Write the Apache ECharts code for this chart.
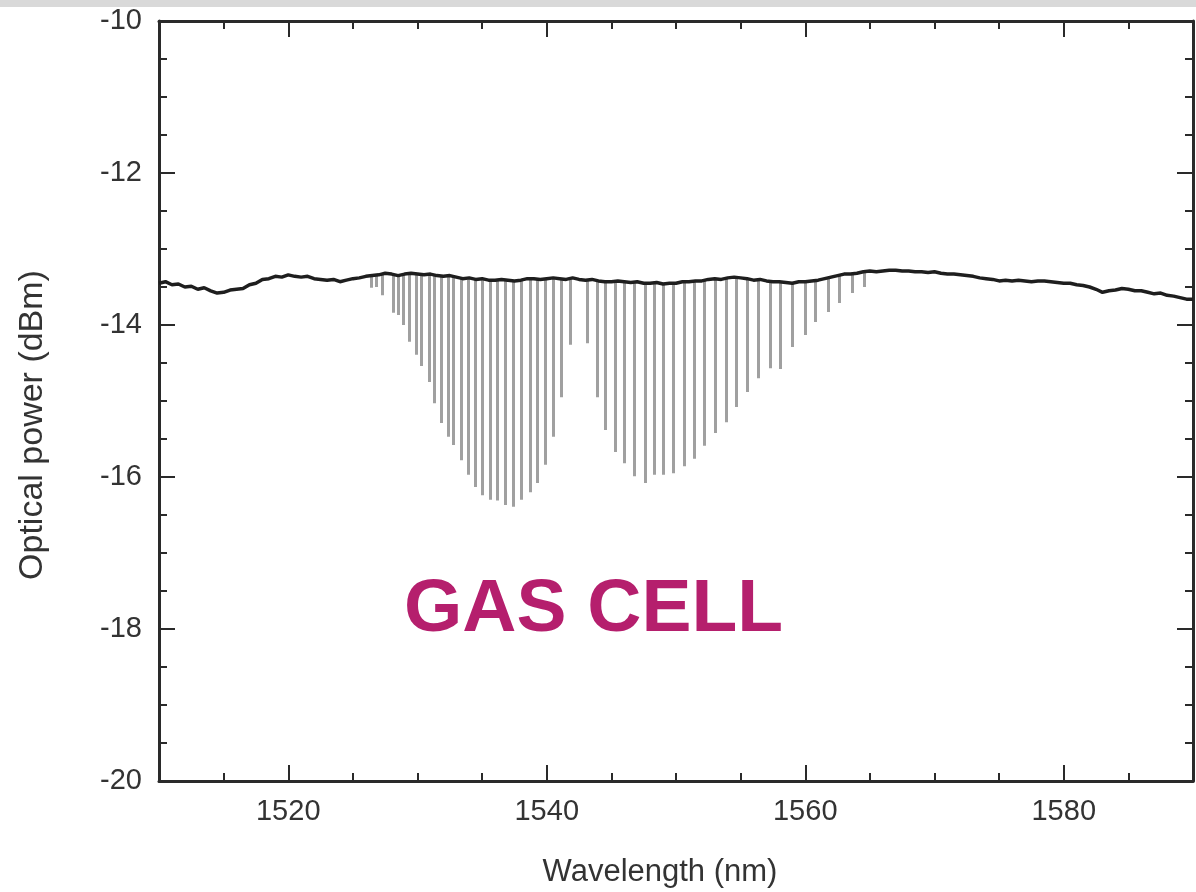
<!DOCTYPE html>
<html>
<head>
<meta charset="utf-8">
<title>Gas cell spectrum</title>
<script src="https://cdn.jsdelivr.net/npm/echarts@6/dist/echarts.min.js"></script>
<style>
  html, body { margin: 0; padding: 0; background: #fff; }
  #main { width: 1196px; height: 892px; }
</style>
</head>
<body>
<div id="main"></div>
<script>
// baseline of the spectrum, one point every 0.5 nm from 1510 to 1590
let baseWl = [];
for (let k = 0; k <= 160; k++) baseWl.push(1510 + k * 0.5);
let basePower = [
  -13.45, -13.43, -13.47, -13.46, -13.50, -13.49, -13.53, -13.51, -13.55, -13.58,
  -13.57, -13.54, -13.53, -13.52, -13.47, -13.45, -13.40, -13.39, -13.36, -13.37,
  -13.34, -13.36, -13.37, -13.36, -13.39, -13.40, -13.41, -13.40, -13.43, -13.41,
  -13.39, -13.38, -13.36, -13.35, -13.34, -13.32, -13.33, -13.35, -13.33, -13.32,
  -13.33, -13.34, -13.33, -13.35, -13.36, -13.35, -13.37, -13.39, -13.38, -13.40,
  -13.39, -13.41, -13.41, -13.40, -13.41, -13.42, -13.41, -13.39, -13.39, -13.40,
  -13.39, -13.38, -13.39, -13.40, -13.38, -13.40, -13.41, -13.40, -13.42, -13.43,
  -13.43, -13.42, -13.43, -13.44, -13.43, -13.45, -13.45, -13.44, -13.46, -13.45,
  -13.45, -13.43, -13.43, -13.42, -13.42, -13.40, -13.39, -13.40, -13.38, -13.37,
  -13.38, -13.39, -13.41, -13.40, -13.42, -13.43, -13.43, -13.44, -13.45, -13.43,
  -13.43, -13.42, -13.41, -13.39, -13.37, -13.35, -13.33, -13.33, -13.32, -13.30,
  -13.29, -13.30, -13.29, -13.28, -13.28, -13.29, -13.29, -13.30, -13.30, -13.31,
  -13.30, -13.32, -13.33, -13.33, -13.34, -13.35, -13.36, -13.38, -13.39, -13.40,
  -13.42, -13.41, -13.42, -13.41, -13.42, -13.43, -13.42, -13.42, -13.43, -13.44,
  -13.45, -13.45, -13.47, -13.48, -13.50, -13.53, -13.57, -13.55, -13.54, -13.52,
  -13.53, -13.55, -13.55, -13.57, -13.59, -13.58, -13.61, -13.62, -13.64, -13.66,
  -13.66
];

// absorption lines of the gas cell: centre wavelength (nm) and bottom of the dip (dBm)
let lineWl = [
  1526.4, 1526.8, 1527.3, 1528.1, 1528.5, 1528.9, 1529.4, 1529.9, 1530.3, 1530.9,
  1531.3, 1531.8, 1532.4, 1532.8, 1533.4, 1533.9, 1534.5, 1535.0, 1535.6, 1536.2,
  1536.8, 1537.4, 1538.0, 1538.7, 1539.3, 1539.9, 1540.5, 1541.1, 1541.8,
  1543.1, 1543.9, 1544.5, 1545.3, 1546.0, 1546.8, 1547.6, 1548.3, 1549.0, 1549.8,
  1550.6, 1551.4, 1552.2, 1553.0, 1553.9, 1554.7, 1555.5, 1556.4, 1557.3, 1558.1,
  1559.0, 1560.0, 1560.8, 1561.8, 1562.6, 1563.6, 1564.6
];
let lineDip = [
  -13.51, -13.50, -13.61, -13.84, -13.87, -14.00, -14.22, -14.39, -14.54, -14.75,
  -15.03, -15.29, -15.47, -15.58, -15.78, -15.97, -16.13, -16.24, -16.30, -16.31,
  -16.37, -16.39, -16.30, -16.20, -16.08, -15.84, -15.47, -14.95, -14.26,
  -14.24, -14.95, -15.38, -15.67, -15.82, -15.99, -16.08, -15.97, -15.97, -15.95,
  -15.86, -15.76, -15.59, -15.42, -15.28, -15.08, -14.88, -14.70, -14.57, -14.58,
  -14.29, -14.13, -13.96, -13.83, -13.71, -13.58, -13.50
];

let majorX = [1520, 1540, 1560, 1580];

let baseData = baseWl.map((w, i) => [w, basePower[i]]);
let dipData = lineWl.map((w, i) => {
  let top = basePower[Math.round((w - 1510) * 2)];
  return { coords: [[w, top], [w, lineDip[i]]] };
});

let axisColor = '#2a2a2a';
let fontName = 'Liberation Sans, Arial, sans-serif';
let labelFont = { color: '#333', fontSize: 29, fontFamily: fontName };

var myChart = echarts.init(document.getElementById('main'));
var option = {
  backgroundColor: '#ffffff',
  animation: false,
  grid: { left: 159, right: 3, top: 21, bottom: 111 },
  graphic: [
    { type: 'rect', shape: { x: 0, y: 0, width: 1196, height: 7 }, style: { fill: '#d9d9d9' } },
    {
      type: 'text', left: 404, top: 573,
      style: { text: 'GAS CELL', fill: '#b51f6d', font: 'bold 75px ' + fontName }
    },
    {
      type: 'text', x: 660, y: 872,
      style: { text: 'Wavelength (nm)', fill: '#333', font: '31px ' + fontName, align: 'center', verticalAlign: 'middle' }
    },
    {
      type: 'text', x: 33, y: 425, rotation: Math.PI / 2,
      style: { text: 'Optical power (dBm)', fill: '#333', font: '34px ' + fontName, align: 'center', verticalAlign: 'middle' }
    }
  ],
  xAxis: [
    {
      type: 'value', position: 'bottom', min: 1510, max: 1590, interval: 5,
      axisLine: { show: true, lineStyle: { color: axisColor, width: 3 } },
      axisTick: { show: true, inside: true, length: 8, lineStyle: { color: axisColor, width: 2 } },
      axisLabel: Object.assign({ margin: 16, interval: 0, formatter: (v) => (v % 20 === 0 ? String(v) : '') }, labelFont),
      splitLine: { show: false }
    },
    {
      type: 'value', position: 'bottom', min: 1510, max: 1590,
      axisLine: { show: false },
      axisTick: { show: true, inside: true, length: 16, customValues: majorX, lineStyle: { color: axisColor, width: 2 } },
      axisLabel: { show: false },
      splitLine: { show: false }
    },
    {
      type: 'value', position: 'top', min: 1510, max: 1590, interval: 5,
      axisLine: { show: true, lineStyle: { color: axisColor, width: 3 } },
      axisTick: { show: true, inside: true, length: 8, lineStyle: { color: axisColor, width: 2 } },
      axisLabel: { show: false },
      splitLine: { show: false }
    },
    {
      type: 'value', position: 'top', min: 1510, max: 1590,
      axisLine: { show: false },
      axisTick: { show: true, inside: true, length: 16, customValues: majorX, lineStyle: { color: axisColor, width: 2 } },
      axisLabel: { show: false },
      splitLine: { show: false }
    }
  ],
  yAxis: [
    {
      type: 'value', position: 'left', min: -20, max: -10, interval: 2,
      axisLine: { show: true, lineStyle: { color: axisColor, width: 3 } },
      axisTick: { show: true, inside: true, length: 16, lineStyle: { color: axisColor, width: 2 } },
      minorTick: { show: true, splitNumber: 4, length: 8, lineStyle: { color: axisColor, width: 2 } },
      axisLabel: Object.assign({ margin: 17 }, labelFont),
      splitLine: { show: false }
    },
    {
      type: 'value', position: 'right', min: -20, max: -10, interval: 2,
      axisLine: { show: true, lineStyle: { color: axisColor, width: 3 } },
      axisTick: { show: true, inside: true, length: 16, lineStyle: { color: axisColor, width: 2 } },
      minorTick: { show: true, splitNumber: 4, length: 8, lineStyle: { color: axisColor, width: 2 } },
      axisLabel: { show: false },
      splitLine: { show: false }
    }
  ],
  series: [
    {
      name: 'absorption lines',
      type: 'lines',
      coordinateSystem: 'cartesian2d',
      xAxisIndex: 0, yAxisIndex: 0,
      z: 2,
      lineStyle: { color: '#a0a0a0', width: 3, opacity: 1 },
      data: dipData
    },
    {
      name: 'spectrum',
      type: 'line',
      xAxisIndex: 0, yAxisIndex: 0,
      z: 3,
      showSymbol: false,
      lineStyle: { color: '#1e1e1e', width: 3.5 },
      data: baseData
    }
  ]
};
myChart.setOption(option);
</script>
</body>
</html>
